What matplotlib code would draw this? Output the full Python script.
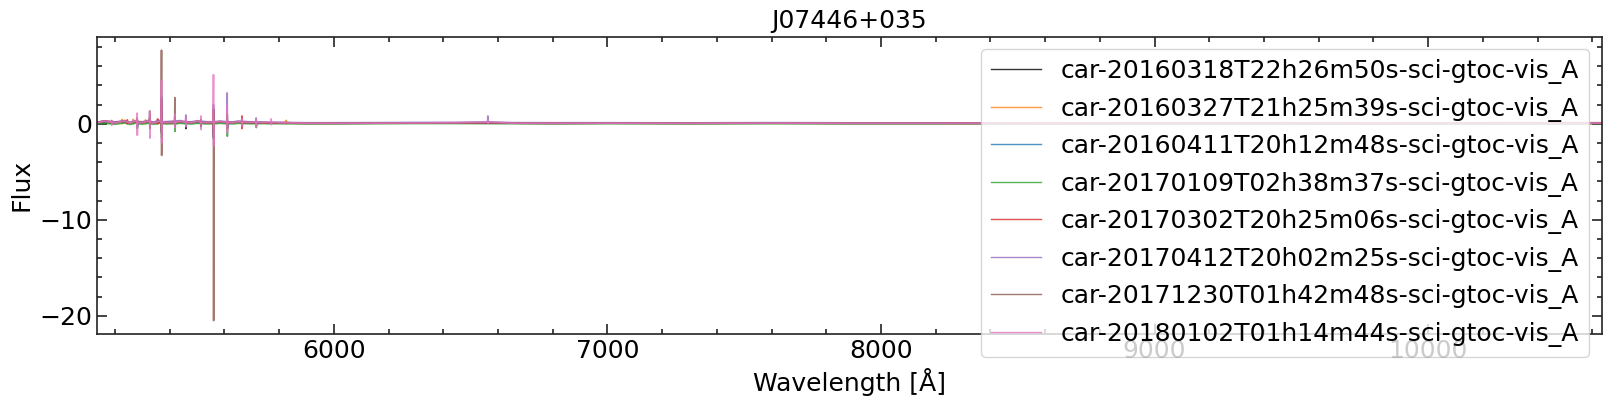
import matplotlib
matplotlib.use("Agg")
import matplotlib.pyplot as plt
from matplotlib.ticker import MultipleLocator

# ---------------- data ----------------
labels = [
    "car-20160318T22h26m50s-sci-gtoc-vis_A",
    "car-20160327T21h25m39s-sci-gtoc-vis_A",
    "car-20160411T20h12m48s-sci-gtoc-vis_A",
    "car-20170109T02h38m37s-sci-gtoc-vis_A",
    "car-20170302T20h25m06s-sci-gtoc-vis_A",
    "car-20170412T20h02m25s-sci-gtoc-vis_A",
    "car-20171230T01h42m48s-sci-gtoc-vis_A",
    "car-20180102T01h14m44s-sci-gtoc-vis_A",
]
colors = ["black", "#ff7f0e", "#1f77b4", "#2ca02c", "#d62728", "#9467bd", "#8c564b", "#e377c2"]

grid_wl = [5135, 5160, 5200, 5235, 5255, 5275, 5300, 5320, 5340, 5365,
           5390, 5440, 5480, 5500, 5535, 5585, 5630, 5650, 5690, 5740,
           5800, 5850, 5900, 6000, 6150, 6300, 6450, 6650, 6800, 7000,
           7300, 7600, 7900, 8200, 8600, 9000, 9400, 9800, 10200, 10634]

base_black = [0.05, 0.15, 0.10, 0.20, 0.05, 0.20, 0.10, 0.15, 0.05, 0.20,
              0.10, 0.15, 0.10, 0.15, 0.10, 0.15, 0.10, 0.15, 0.10, 0.08,
              0.06, 0.05, 0.04, 0.04, 0.05, 0.06, 0.06, 0.05, 0.04, 0.05,
              0.04, 0.05, 0.04, 0.04, 0.04, 0.04, 0.04, 0.03, 0.04, 0.05]
base_orange = [0.10, 0.30, 0.15, 0.35, 0.10, 0.30, 0.15, 0.30, 0.10, 0.30,
               0.15, 0.25, 0.12, 0.25, 0.12, 0.22, 0.12, 0.20, 0.12, 0.10,
               0.08, 0.06, 0.05, 0.05, 0.06, 0.07, 0.08, 0.06, 0.05, 0.06,
               0.05, 0.06, 0.05, 0.05, 0.04, 0.05, 0.05, 0.04, 0.05, 0.05]
base_blue = [0.08, 0.20, 0.10, 0.22, 0.08, 0.22, 0.10, 0.20, 0.08, 0.22,
             0.12, 0.20, 0.10, 0.20, 0.12, 0.18, 0.10, 0.18, 0.12, 0.10,
             0.08, 0.06, 0.05, 0.05, 0.06, 0.07, 0.08, 0.06, 0.05, 0.06,
             0.05, 0.06, 0.05, 0.05, 0.04, 0.05, 0.05, 0.04, 0.05, 0.05]
base_green = [0.00, 0.05, -0.05, 0.08, -0.08, 0.06, -0.04, 0.05, -0.06, 0.06,
              -0.02, 0.04, -0.03, 0.05, -0.02, 0.04, -0.02, 0.04, 0.00, 0.01,
              0.00, 0.00, 0.00, 0.00, 0.01, 0.02, 0.02, 0.01, 0.00, 0.01,
              0.00, 0.01, 0.00, 0.00, 0.00, 0.00, 0.00, 0.00, 0.00, 0.01]
base_red = [0.10, 0.30, 0.12, 0.30, 0.08, 0.28, 0.12, 0.25, 0.08, 0.28,
            0.12, 0.22, 0.10, 0.24, 0.12, 0.20, 0.10, 0.20, 0.12, 0.10,
            0.08, 0.06, 0.05, 0.05, 0.06, 0.07, 0.08, 0.06, 0.05, 0.06,
            0.05, 0.06, 0.05, 0.05, 0.04, 0.05, 0.05, 0.04, 0.05, 0.05]
base_purple = [0.15, 0.30, 0.18, 0.32, 0.15, 0.32, 0.20, 0.32, 0.18, 0.35,
               0.22, 0.32, 0.20, 0.30, 0.20, 0.28, 0.18, 0.28, 0.20, 0.18,
               0.15, 0.12, 0.10, 0.10, 0.11, 0.13, 0.14, 0.11, 0.10, 0.10,
               0.09, 0.11, 0.09, 0.09, 0.08, 0.09, 0.09, 0.08, 0.09, 0.10]
base_brown = [0.08, 0.22, 0.10, 0.25, 0.06, 0.25, 0.10, 0.22, 0.06, 0.25,
              0.10, 0.20, 0.10, 0.22, 0.10, 0.20, 0.10, 0.20, 0.12, 0.10,
              0.08, 0.06, 0.05, 0.05, 0.06, 0.07, 0.08, 0.06, 0.05, 0.06,
              0.05, 0.06, 0.05, 0.05, 0.04, 0.05, 0.05, 0.04, 0.05, 0.05]
base_pink = [0.10, 0.25, 0.08, 0.28, 0.06, 0.30, 0.10, 0.26, 0.06, 0.28,
             0.12, 0.24, 0.10, 0.26, 0.12, 0.22, 0.10, 0.22, 0.14, 0.12,
             0.10, 0.08, 0.06, 0.05, 0.06, 0.08, 0.10, 0.06, 0.05, 0.06,
             0.05, 0.07, 0.05, 0.05, 0.04, 0.05, 0.05, 0.04, 0.05, 0.06]

# level around which the blue-end spikes sit, per series
spike_level = [0.10, 0.15, 0.12, 0.00, 0.12, 0.20, 0.12, 0.15]

# spikes: (wavelength, peak flux, trough flux)
spikes_black = [(5188, 0.3, -0.1), (5281, 0.5, -0.3), (5327, 0.6, -0.4), (5370, 2.5, -1.0),
                (5419, 0.8, -0.3), (5459, 0.3, -0.5), (5514, 0.4, -0.3), (5560, 1.5, -1.5),
                (5610, 1.0, -0.5), (5664, 0.4, -0.3)]
spikes_orange = [(5226, 0.45, 0.0), (5267, 0.45, 0.0), (5312, 0.4, 0.0), (5356, 0.4, 0.0),
                 (5370, 2.0, -0.8), (5560, 1.2, -1.0), (5610, 0.8, -0.4), (5826, 0.35, 0.0)]
spikes_blue = [(5281, 0.4, -0.3), (5370, 1.5, -0.8), (5560, 1.0, -1.0), (5610, 0.8, -0.4)]
spikes_green = [(5281, 0.3, -0.5), (5327, 0.3, -0.4), (5370, 1.5, -1.5), (5419, 0.3, -0.8),
                (5560, 1.0, -1.5), (5610, 0.2, -1.3), (5716, 0.1, -0.4)]
spikes_red = [(5245, 0.4, 0.0), (5356, 0.5, 0.0), (5370, 2.0, -0.8), (5560, 1.0, -1.0),
              (5664, 0.8, -0.5)]
spikes_purple = [(5281, 0.6, -0.3), (5370, 2.8, -0.8), (5459, 0.9, -0.3), (5560, 2.0, -1.2),
                 (5610, 3.2, -0.4), (5716, 0.6, -0.2), (6563, 0.8, 0.05)]
spikes_brown = [(5327, 1.3, -0.5), (5370, 7.65, -3.3), (5419, 2.7, -0.3), (5560, 1.5, -20.5),
                (5610, 1.0, -0.5)]
spikes_pink = [(5188, 0.35, -0.1), (5281, 1.1, -1.2), (5327, 1.35, -1.5), (5370, 4.5, -2.0),
               (5419, 1.0, -0.4), (5459, 0.6, -0.3), (5514, 0.8, -0.6), (5560, 5.1, -2.3),
               (5610, 1.9, -1.0), (5664, 0.5, -0.3), (5716, 0.4, -0.3), (5771, 0.5, -0.1),
               (6563, 0.3, 0.05)]

bases = [base_black, base_orange, base_blue, base_green, base_red, base_purple, base_brown, base_pink]
spikes = [spikes_black, spikes_orange, spikes_blue, spikes_green, spikes_red, spikes_purple,
          spikes_brown, spikes_pink]

# ---------------- figure ----------------
fs = 18
plt.rcParams["font.family"] = "DejaVu Sans"
fig = plt.figure(figsize=(16.11, 4.11), dpi=100)
ax = fig.add_axes([0.0600, 0.1873, 0.9342, 0.7234])

for base, spk, lvl, col, lab in zip(bases, spikes, spike_level, colors, labels, strict=True):
    pts = list(zip(grid_wl, base, strict=True))
    for w, up, dn in spk:
        pts += [(w - 1.0, lvl), (w, up), (w + 0.6, dn), (w + 1.5, lvl)]
    pts.sort(key=lambda p: p[0])
    xs = [p[0] for p in pts]
    ys = [p[1] for p in pts]
    ax.plot(xs, ys, color=col, lw=1.25, alpha=0.8, label=lab)

ax.set_xlim(5133, 10634)
ax.set_ylim(-21.9, 9.06)

ax.xaxis.set_major_locator(MultipleLocator(1000))
ax.xaxis.set_minor_locator(MultipleLocator(200))
ax.yaxis.set_major_locator(MultipleLocator(10))
ax.yaxis.set_minor_locator(MultipleLocator(2))

spine_col = "#222222"
for s in ax.spines.values():
    s.set_linewidth(1.2)
    s.set_color(spine_col)
ax.tick_params(which="both", direction="in", top=True, right=True, color=spine_col,
               labelsize=fs, width=1.2)
ax.tick_params(which="major", length=7)
ax.tick_params(which="minor", length=3.5)

ax.set_xlabel("Wavelength [Å]", fontsize=fs)
ax.set_ylabel("Flux", fontsize=fs)
ax.set_title("J07446+035", fontsize=fs)

leg = ax.legend(loc="upper right", fontsize=fs)
for h in leg.legend_handles:
    h.set_linewidth(1.0)

fig.savefig("out.png", dpi=100)
